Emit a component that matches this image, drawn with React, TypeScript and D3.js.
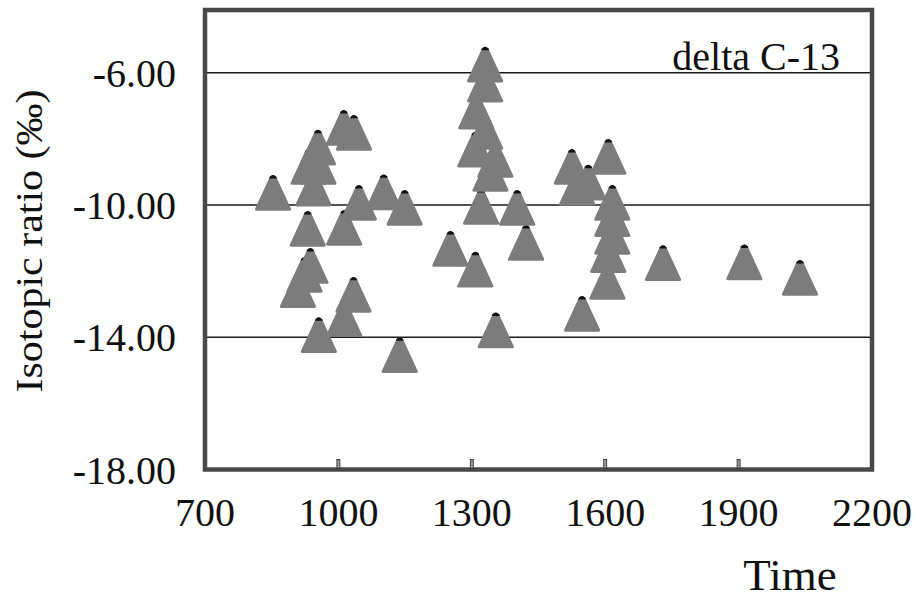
import React, { useEffect, useRef } from 'react';
import * as d3 from 'd3';

const times = [
  853, 1012, 1035, 954, 933, 955, 944, 1046, 1102, 1149, 931, 1013,
  937, 924, 909, 1034, 1013, 956, 1138, 1252, 1308, 1354,
  1330, 1330, 1310, 1330, 1308, 1353, 1342, 1321, 1402, 1422,
  1525, 1562, 1537, 1607, 1616, 1616, 1616, 1607, 1605, 1548,
  1730, 1913, 2038,
];
const ratios = [
  -9.63, -7.66, -7.81, -8.26, -8.84, -8.84, -9.5, -9.93, -9.61, -10.08, -10.72, -10.69,
  -11.84, -12.11, -12.57, -12.71, -13.45, -13.93, -14.54, -11.32, -11.95, -13.79,
  -5.75, -6.35, -7.17, -7.78, -8.32, -8.63, -9.05, -10.05, -10.08, -11.14,
  -8.84, -9.32, -9.48, -8.54, -9.93, -10.42, -10.96, -11.51, -12.32, -13.29,
  -11.75, -11.73, -12.2,
];

const xTicks = [700, 1000, 1300, 1600, 1900, 2200];
const xTickLabels = ['700', '1000', '1300', '1600', '1900', '2200'];
const yTicks = [-6, -10, -14, -18];
const yTickLabels = ['-6.00', '-10.00', '-14.00', '-18.00'];
const gridValues = [-6, -10, -14];
const innerTicks = [1000, 1300, 1600, 1900];

const App: React.FC = () => {
  const ref = useRef<SVGSVGElement>(null);

  useEffect(() => {
    if (!ref.current) return;
    const svg = d3.select(ref.current);
    svg.selectAll('*').remove();

    const left = 205;
    const right = 872;
    const top = 10;
    const bottom = 469.5;
    const font = '"Liberation Serif", "Times New Roman", serif';

    const x = d3.scaleLinear().domain([700, 2200]).range([left, right]);
    const y = d3.scaleLinear().domain([-18, -4.1]).range([bottom, top]);

    // grid lines
    svg.append('g')
      .selectAll('line')
      .data(gridValues)
      .enter()
      .append('line')
      .attr('x1', left)
      .attr('x2', right)
      .attr('y1', d => y(d))
      .attr('y2', d => y(d))
      .attr('stroke', '#1a1a1a')
      .attr('stroke-width', 1.6);

    // markers, lowest values first so upper ones cover their caps
    const points = times.map((t, i) => ({ t, v: ratios[i] }))
      .sort((a, b) => a.v - b.v);

    const tri = 'M-3.2,-16 Q0,-19.5 3.2,-16 L18,16 Q18.6,18 16.5,18 L-16.5,18 Q-18.6,18 -18,16 Z';
    const cap = 'M-3.2,-16 Q0,-19.5 3.2,-16 L3.9,-14.3 L-3.9,-14.3 Z';

    const marks = svg.append('g')
      .selectAll('g')
      .data(points)
      .enter()
      .append('g')
      .attr('transform', d => `translate(${x(d.t)},${y(d.v)})`);

    marks.append('path')
      .attr('d', tri)
      .attr('fill', '#7c7c7c');

    marks.append('path')
      .attr('d', cap)
      .attr('fill', '#111');

    // frame
    svg.append('rect')
      .attr('x', left)
      .attr('y', top)
      .attr('width', right - left)
      .attr('height', bottom - top)
      .attr('fill', 'none')
      .attr('stroke', '#484848')
      .attr('stroke-width', 4.5);

    // small x tick marks on the bottom frame
    svg.append('g')
      .selectAll('rect')
      .data(innerTicks)
      .enter()
      .append('rect')
      .attr('x', d => x(d) - 1.5)
      .attr('y', bottom - 10)
      .attr('width', 3)
      .attr('height', 9)
      .attr('fill', '#9a9a9a')
      .attr('stroke', '#222')
      .attr('stroke-width', 0.8);

    // y tick labels
    svg.append('g')
      .selectAll('text')
      .data(yTicks)
      .enter()
      .append('text')
      .attr('x', 176)
      .attr('y', d => y(d))
      .attr('dy', '0.35em')
      .attr('text-anchor', 'end')
      .style('font-family', font)
      .style('font-size', '40px')
      .style('fill', '#111')
      .text((d, i) => yTickLabels[i]);

    // x tick labels
    svg.append('g')
      .selectAll('text')
      .data(xTicks)
      .enter()
      .append('text')
      .attr('x', d => x(d))
      .attr('y', 526)
      .attr('text-anchor', 'middle')
      .style('font-family', font)
      .style('font-size', '40px')
      .style('fill', '#111')
      .text((d, i) => xTickLabels[i]);

    // axis titles
    svg.append('text')
      .attr('x', 790)
      .attr('y', 590)
      .attr('text-anchor', 'middle')
      .style('font-family', font)
      .style('font-size', '45px')
      .style('fill', '#111')
      .text('Time');

    svg.append('text')
      .attr('transform', 'translate(42,241) rotate(-90)')
      .attr('text-anchor', 'middle')
      .attr('textLength', 303)
      .attr('lengthAdjust', 'spacingAndGlyphs')
      .style('font-family', font)
      .style('font-size', '38px')
      .style('fill', '#111')
      .text('Isotopic ratio (‰)');

    svg.append('text')
      .attr('x', 840)
      .attr('y', 70)
      .attr('text-anchor', 'end')
      .style('font-family', font)
      .style('font-size', '40px')
      .style('fill', '#111')
      .text('delta C-13');
  }, []);

  return (
    <svg
      ref={ref}
      width={915}
      height={606}
      style={{ position: 'absolute', left: 0, top: 0, background: '#fff' }}
    />
  );
};

export default App;
